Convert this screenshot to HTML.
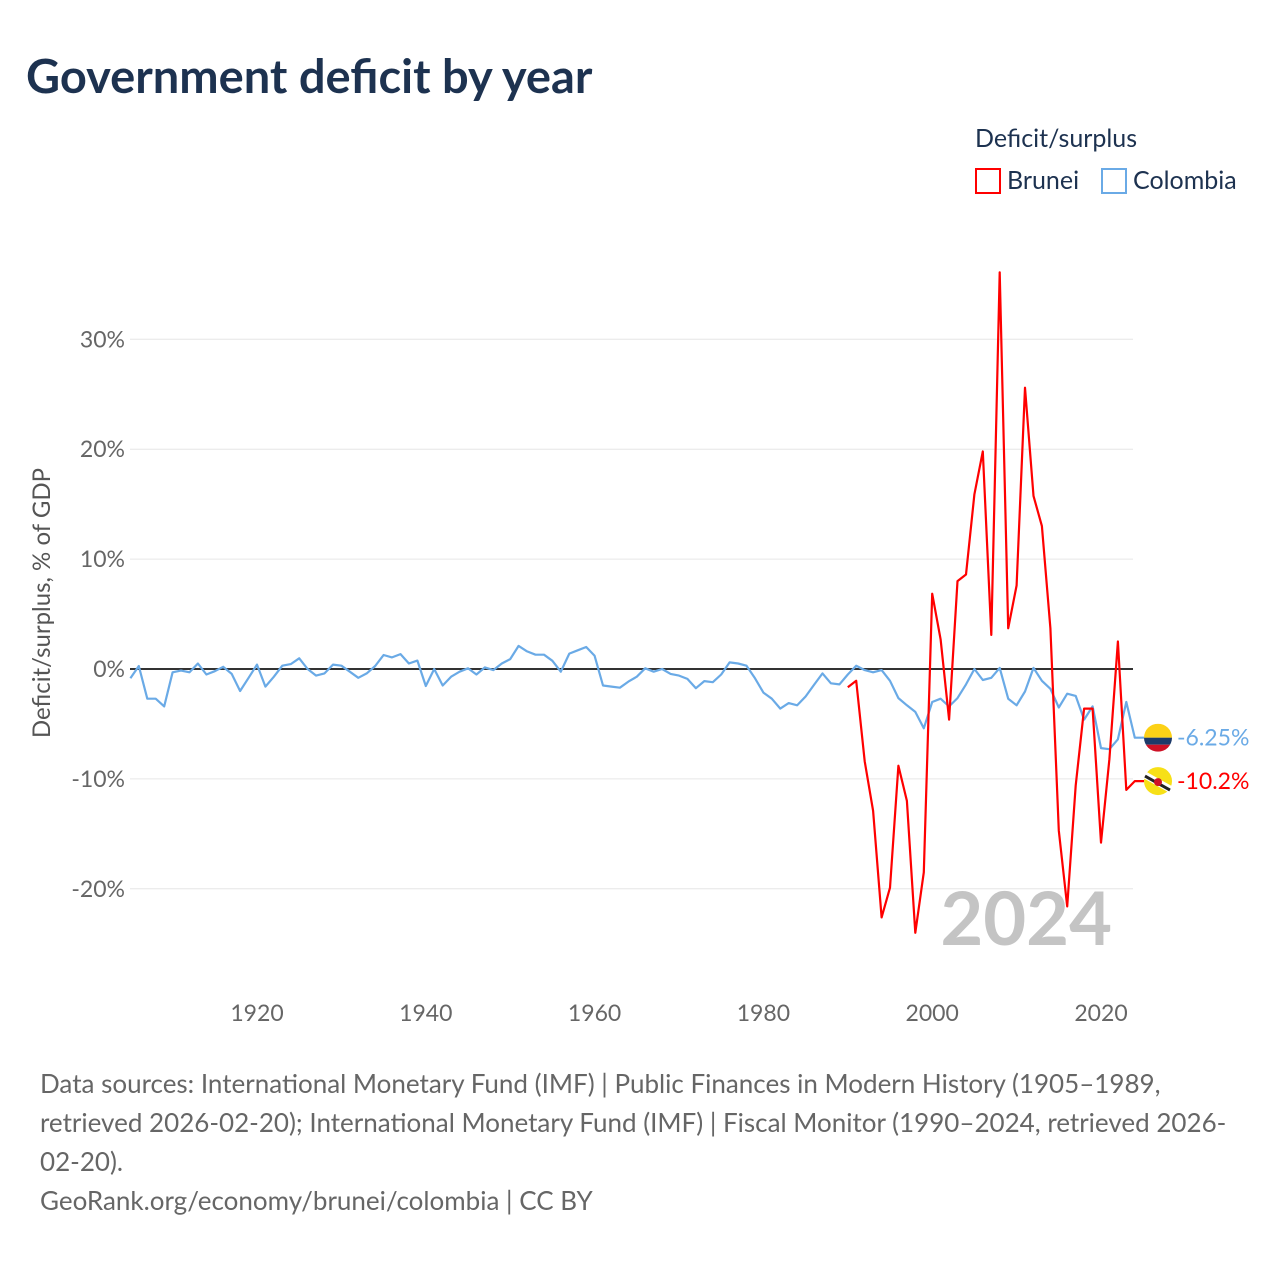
<!DOCTYPE html>
<html><head><meta charset="utf-8"><style>
body{margin:0;background:#fff;font-family:"Liberation Sans",sans-serif;}
svg text{font-family:"Lato","Liberation Sans",sans-serif;}
</style></head><body>
<svg id="chart" width="1280" height="1280" viewBox="0 0 1280 1280">
<text x="26" y="93" font-size="47" font-weight="bold" fill="#1d3250">Government deficit by year</text>
<g>
<text x="975" y="147" font-size="25" fill="#1d3250">Deficit/surplus</text>
<rect x="976" y="169" width="24" height="24" fill="none" stroke="#ff0000" stroke-width="2"/>
<text x="1007" y="189" font-size="25" fill="#1d3250">Brunei</text>
<rect x="1102" y="169" width="24" height="24" fill="none" stroke="#6aaae6" stroke-width="2"/>
<text x="1133" y="189" font-size="25" fill="#1d3250">Colombia</text>
</g>
<g id="grid"></g>
<g id="axes"></g>
<text x="1112" y="945" font-size="74" font-weight="bold" fill="#c4c4c4" text-anchor="end">2024</text>
<g id="series"></g>
<text transform="translate(50,603) rotate(-90)" font-size="24" fill="#555" text-anchor="middle">Deficit/surplus, % of GDP</text>
<g font-size="26" fill="#666">
<text x="40" y="1093">Data sources: International Monetary Fund (IMF) | Public Finances in Modern History (1905–1989,</text>
<text x="40" y="1132">retrieved 2026-02-20); International Monetary Fund (IMF) | Fiscal Monitor (1990–2024, retrieved 2026-</text>
<text x="40" y="1171">02-20).</text>
<text x="40" y="1210">GeoRank.org/economy/brunei/colombia | CC BY</text>
</g>
</svg>
<script>
const colombiaStart = 1905;
const colombiaValues = [-0.85,0.27,-2.7,-2.7,-3.4,-0.3,-0.15,-0.3,0.5,-0.5,-0.2,0.2,-0.45,-2.0,-0.8,0.4,-1.6,-0.7,0.3,0.45,0.97,0,-0.6,-0.4,0.4,0.3,-0.25,-0.8,-0.4,0.27,1.27,1.06,1.36,0.5,0.76,-1.55,0,-1.5,-0.7,-0.25,0.06,-0.5,0.15,-0.1,0.5,0.9,2.1,1.6,1.3,1.3,0.75,-0.25,1.4,1.7,2.0,1.2,-1.5,-1.6,-1.7,-1.15,-0.7,0.06,-0.25,0,-0.45,-0.6,-0.9,-1.75,-1.1,-1.2,-0.5,0.6,0.5,0.3,-0.85,-2.15,-2.7,-3.6,-3.1,-3.3,-2.5,-1.45,-0.4,-1.3,-1.4,-0.5,0.3,-0.1,-0.3,-0.1,-1.07,-2.65,-3.3,-3.9,-5.4,-3.0,-2.7,-3.4,-2.65,-1.4,0,-1.0,-0.8,0.1,-2.7,-3.3,-2.05,0.1,-1.07,-1.8,-3.5,-2.25,-2.45,-4.6,-3.4,-7.2,-7.3,-6.4,-3.0,-6.25];
const bruneiStart = 1990;
const bruneiValues = [-1.66,-1.07,-8.4,-12.9,-22.6,-19.9,-8.8,-12.0,-24.0,-18.5,6.85,2.7,-4.6,8.0,8.6,15.9,19.8,3.1,36.1,3.7,7.6,25.6,15.75,13.0,3.7,-14.7,-21.6,-10.6,-3.6,-3.6,-15.8,-8.2,2.5,-11.0,-10.2];
const yTicks = [-20,-10,0,10,20,30];
const yTickLabels = ["-20%","-10%","0%","10%","20%","30%"];
const xTicks = [1920,1940,1960,1980,2000,2020];
const xTickLabels = ["1920","1940","1960","1980","2000","2020"];

const NS="http://www.w3.org/2000/svg";
const X0=130, X1=1133;
const xScale = yr => 257 + (yr-1920)*8.44;
const yScale = v => 669 - v*10.99;
function mk(tag,attrs,parent){const e=document.createElementNS(NS,tag);for(const k in attrs)e.setAttribute(k,attrs[k]);parent.appendChild(e);return e;}
const grid=document.getElementById('grid'), axes=document.getElementById('axes'), series=document.getElementById('series');
yTicks.forEach((t,i)=>{
  if(t!==0){const l=mk('line',{x1:X0,x2:X1,y1:yScale(t),y2:yScale(t),stroke:'#e6e6e6','stroke-width':1},grid);
  
  }
  const tx=mk('text',{x:125,y:yScale(t)+8,'font-size':23,fill:'#666','text-anchor':'end'},axes);
  tx.textContent=yTickLabels[i];
  
  
});
xTicks.forEach((t,i)=>{
  const tx=mk('text',{x:xScale(t),y:1021,'font-size':23,fill:'#666','text-anchor':'middle'},axes);
  tx.textContent=xTickLabels[i];
  
  
});
const zl=mk('line',{x1:X0,x2:X1,y1:yScale(0),y2:yScale(0),stroke:'#333','stroke-width':2},axes);


function pts(start,vals){return vals.map((v,i)=>xScale(start+i).toFixed(1)+','+yScale(v).toFixed(1)).join(' ');}
const cLast=colombiaValues[colombiaValues.length-1], bLast=bruneiValues[bruneiValues.length-1];
const cy=yScale(cLast), by=yScale(bLast);
const fx=1158;
const cl=mk('polyline',{points:pts(colombiaStart,colombiaValues)+' '+(fx-14)+','+cy.toFixed(1),fill:'none',stroke:'#6aaae6','stroke-width':2.2,'stroke-linejoin':'round'},series);


const bl=mk('polyline',{points:pts(bruneiStart,bruneiValues)+' '+(fx-14)+','+by.toFixed(1),fill:'none',stroke:'#ff0000','stroke-width':2.2,'stroke-linejoin':'round'},series);


const cf=mk('g',{},series);


const cp=mk('clipPath',{id:'cc'},cf);
mk('circle',{cx:fx,cy:cy,r:14},cp);
const cgr=mk('g',{'clip-path':'url(#cc)'},cf);
mk('rect',{x:fx-14,y:cy-14,width:28,height:14,fill:'#fcd116'},cgr);
mk('rect',{x:fx-14,y:cy,width:28,height:7,fill:'#1d3a6a'},cgr);
mk('rect',{x:fx-14,y:cy+7,width:28,height:7,fill:'#ce1126'},cgr);
const bf=mk('g',{},series);


mk('circle',{cx:fx,cy:by,r:14,fill:'#f7e017'},bf);
mk('line',{x1:fx-13,y1:by-6,x2:fx+12,y2:by+8,stroke:'#fff','stroke-width':7},bf);
mk('line',{x1:fx-13,y1:by-5,x2:fx+12,y2:by+9,stroke:'#222','stroke-width':3},bf);
mk('circle',{cx:fx,cy:by+1,r:4,fill:'#cf1126'},bf);
const ct=mk('text',{x:1177,y:cy+8,'font-size':23,fill:'#6aaae6'},series);
ct.textContent=cLast+'%';


const bt=mk('text',{x:1177,y:by+8,'font-size':23,fill:'#ff0000'},series);
bt.textContent=bLast+'%';


</script>
</body></html>
